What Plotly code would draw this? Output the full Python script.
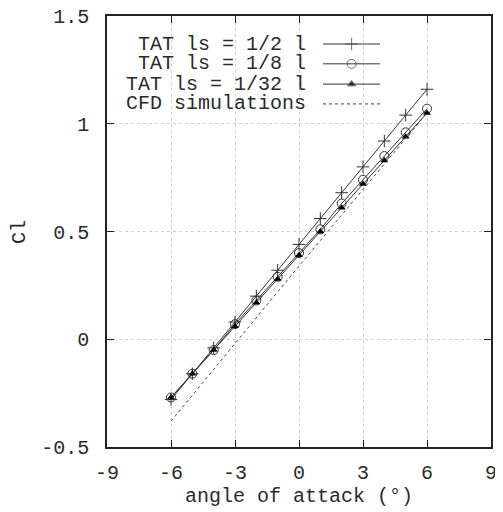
import plotly.graph_objects as go

# angle of attack (deg) and lift coefficient readings
alpha = [-6, -5, -4, -3, -2, -1, 0, 1, 2, 3, 4, 5, 6]
cl_half = [-0.28, -0.16, -0.04, 0.08, 0.20, 0.32, 0.44, 0.56, 0.68, 0.80, 0.92, 1.04, 1.16]
cl_eighth = [-0.27, -0.16, -0.05, 0.07, 0.18, 0.29, 0.40, 0.51, 0.63, 0.74, 0.85, 0.96, 1.07]
cl_32nd = [-0.27, -0.16, -0.05, 0.06, 0.17, 0.28, 0.39, 0.50, 0.61, 0.72, 0.83, 0.94, 1.05]
alpha_cfd = [-6, 0, 6]
cl_cfd = [-0.38, 0.34, 1.05]

names = ["TAT ls = 1/2 l", "TAT ls = 1/8 l", "TAT ls = 1/32 l", "CFD simulations"]
x_ticks = [-9, -6, -3, 0, 3, 6, 9]
x_ticktext = ["-9", "-6", "-3", "0", "3", "6", "9"]
y_ticks = [-0.5, 0, 0.5, 1, 1.5]
y_ticktext = ["-0.5", "0", "0.5", "1", "1.5"]

FONT = "Liberation Mono, Courier New, monospace"
INK = "#333333"
TXT = "#2a2a2a"
FS = 20

series = [
    (cl_half, dict(symbol="cross-thin", size=9, line=dict(color=INK, width=1), color=INK)),
    (cl_eighth, dict(symbol="circle-open", size=9, line=dict(color=INK, width=1), color=INK)),
    (cl_32nd, dict(symbol="triangle-up", size=7, color="black")),
]

fig = go.Figure()

for ys, mk in series:
    fig.add_trace(go.Scatter(
        x=alpha, y=ys, mode="lines+markers",
        line=dict(color=INK, width=1), marker=mk,
        showlegend=False, hoverinfo="x+y"
    ))

fig.add_trace(go.Scatter(
    x=alpha_cfd, y=cl_cfd, mode="lines",
    line=dict(color="#444444", width=1, dash="dot"),
    showlegend=False
))

# hand-made gnuplot-style key: text right-aligned, sample on the right
key_y = [0.935, 0.889, 0.842, 0.796]
for i, name in enumerate(names):
    fig.add_annotation(
        xref="paper", yref="paper", x=0.523, y=key_y[i],
        xanchor="right", yanchor="middle", text=name, showarrow=False,
        font=dict(family=FONT, size=FS, color=TXT)
    )
    if i < 3:
        mk = dict(series[i][1])
        mk["size"] = [0, series[i][1]["size"], 0]
        fig.add_trace(go.Scatter(
            x=[0.5625, 0.637, 0.711], y=[key_y[i]] * 3,
            xaxis="x2", yaxis="y2", mode="lines+markers",
            line=dict(color=INK, width=1), marker=mk,
            showlegend=False, hoverinfo="skip"
        ))
    else:
        fig.add_trace(go.Scatter(
            x=[0.5625, 0.711], y=[key_y[i]] * 2,
            xaxis="x2", yaxis="y2", mode="lines",
            line=dict(color="#444444", width=1, dash="dot"),
            showlegend=False, hoverinfo="skip"
        ))

axis_common = dict(
    showline=True, linecolor="#222222", linewidth=1.5, mirror="ticks",
    ticks="inside", ticklen=7, tickcolor="#222222", tickwidth=1,
    showgrid=True, gridcolor="#cfcfcf", griddash="dot", gridwidth=1,
    zeroline=False, automargin=False, ticklabeloverflow="allow",
    tickfont=dict(family=FONT, size=FS, color=TXT),
)

# the page body has an 8px margin, so the figure is shifted by 8px
fig.update_layout(
    width=495, height=504,
    margin=dict(l=99, r=12, t=8, b=65, autoexpand=False),
    plot_bgcolor="white", paper_bgcolor="white",
    xaxis=dict(range=[-9, 9], tickvals=x_ticks, ticktext=x_ticktext,
               ticklabelstandoff=6, **axis_common),
    yaxis=dict(range=[-0.5, 1.5], tickvals=y_ticks, ticktext=y_ticktext,
               ticklabelstandoff=12, **axis_common),
    xaxis2=dict(range=[0, 1], overlaying="x", visible=False, fixedrange=True),
    yaxis2=dict(range=[0, 1], overlaying="y", visible=False, fixedrange=True),
    showlegend=False,
)

fig.add_annotation(
    xref="paper", yref="paper", x=0.5, y=-0.116, xanchor="center", yanchor="middle",
    text="angle of attack (°)", showarrow=False,
    font=dict(family=FONT, size=FS, color=TXT)
)
fig.add_annotation(
    xref="paper", yref="paper", x=-0.228, y=0.5, xanchor="center", yanchor="middle",
    text="Cl", textangle=-90, showarrow=False,
    font=dict(family=FONT, size=FS, color=TXT)
)

fig.write_html("out.html")
